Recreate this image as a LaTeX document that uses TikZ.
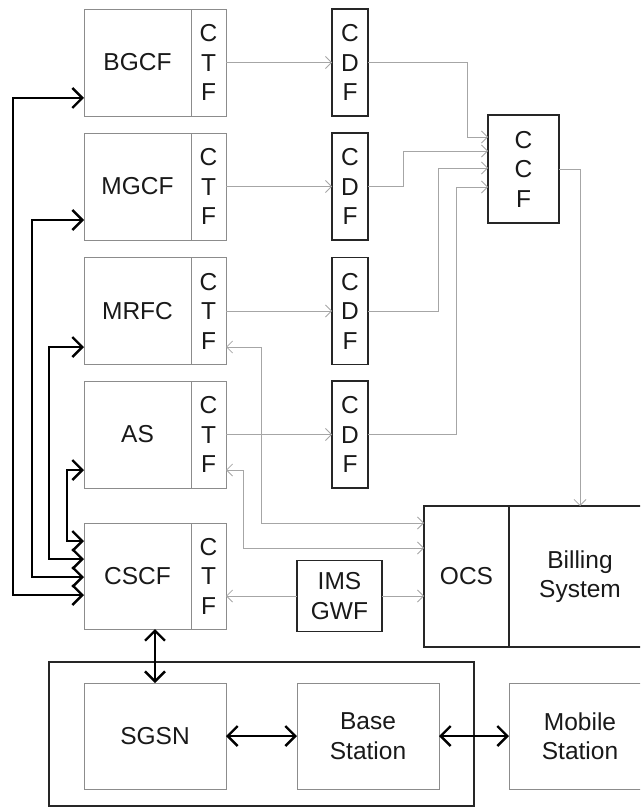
\documentclass[tikz,border=0pt]{standalone}
\usepackage{fontspec}
\setmainfont{Liberation Sans}
\usetikzlibrary{arrows.meta,positioning}
\begin{document}
\begin{tikzpicture}[x=1pt, y=-1pt,
  every node/.style={font=\fontsize{24.5}{29.5}\selectfont, text=black!90, inner sep=0pt, outer sep=0pt, align=center},
  fbox/.style={draw=black!45, line width=0.8pt, minimum width=107pt, minimum height=107pt},
  ctfbox/.style={draw=black!45, line width=0.8pt, minimum width=35pt, minimum height=107pt},
  cdfbox/.style={draw=black!85, line width=1.6pt, minimum width=36pt, minimum height=107pt},
  kbox/.style={draw=black!85, line width=1.6pt},
  gbox/.style={draw=black!45, line width=0.8pt, minimum width=142pt, minimum height=106pt},
  gline/.style={draw=black!35, line width=0.8pt, -{Straight Barb[length=6pt,width=12pt]}},
  gboth/.style={gline, {Straight Barb[length=6pt,width=12pt]}-{Straight Barb[length=6pt,width=12pt]}},
  link/.style={draw=black, line width=2.4pt, {Straight Barb[length=10pt,width=20pt]}-{Straight Barb[length=10pt,width=20pt]}}]
  \useasboundingbox (0,0) rectangle (640,810);
  \clip (0,0) rectangle (640,810);
  % network functions with their CTF
  \node[fbox] (bgcf) at (137.5,62.5) {BGCF};
  \node[ctfbox, right=0pt of bgcf] (bgcfctf) {C\\T\\F};
  \node[fbox] (mgcf) at (137.5,186.5) {MGCF};
  \node[ctfbox, right=0pt of mgcf] (mgcfctf) {C\\T\\F};
  \node[fbox] (mrfc) at (137.5,311) {MRFC};
  \node[ctfbox, right=0pt of mrfc] (mrfcctf) {C\\T\\F};
  \node[fbox] (as) at (137.5,434.5) {AS};
  \node[ctfbox, right=0pt of as] (asctf) {C\\T\\F};
  \node[fbox, minimum height=106pt] (cscf) at (137.5,576) {CSCF};
  \node[ctfbox, minimum height=106pt, right=0pt of cscf] (cscfctf) {C\\T\\F};
  % offline charging
  \node[cdfbox] (bgcfcdf) at (350,62.5) {C\\D\\F};
  \node[cdfbox] (mgcfcdf) at (350,186.5) {C\\D\\F};
  \node[cdfbox] (mrfccdf) at (350,311) {C\\D\\F};
  \node[cdfbox] (ascdf) at (350,434.5) {C\\D\\F};
  \node[kbox, minimum width=71pt, minimum height=108pt] (ccf) at (523.5,169) {C\\C\\F};
  % online charging and billing
  \node[kbox, minimum width=85pt, minimum height=141pt] (ocs) at (466.5,576.5) {OCS};
  \node[kbox, minimum width=142pt, minimum height=141pt, right=0pt of ocs] (bill) {Billing\\System};
  \node[kbox, minimum width=85pt, minimum height=71pt] (gwf) at (339.5,596) {IMS\\GWF};
  % access side
  \node[kbox, minimum width=425pt, minimum height=144pt] (ran) at (261.5,734) {};
  \node[gbox] (sgsn) at (155,736) {SGSN};
  \node[gbox] (bs) at (368,736) {Base\\Station};
  \node[gbox] (ms) at (580,736) {Mobile\\Station};
  % CTF to CDF to CCF
  \draw[gline] (bgcfctf) -- (bgcfcdf);
  \draw[gline] (mgcfctf) -- (mgcfcdf);
  \draw[gline] (mrfcctf) -- (mrfccdf);
  \draw[gline] (asctf) -- (ascdf);
  \draw[gline] (bgcfcdf.east) -| ([xshift=-21pt,yshift=32pt]ccf.west) -- ([yshift=32pt]ccf.west);
  \draw[gline] (mgcfcdf.east) -| ([xshift=-85pt,yshift=18pt]ccf.west) -- ([yshift=18pt]ccf.west);
  \draw[gline] (mrfccdf.east) -| ([xshift=-50pt,yshift=1pt]ccf.west) -- ([yshift=1pt]ccf.west);
  \draw[gline] (ascdf.east) -| ([xshift=-32pt,yshift=-18pt]ccf.west) -- ([yshift=-18pt]ccf.west);
  \draw[gline] (ccf.east) -| (bill.north);
  % CTF to OCS
  \draw[gboth] ([yshift=-36pt]mrfcctf.east) -| ([xshift=-163pt,yshift=53.5pt]ocs.west) -- ([yshift=53.5pt]ocs.west);
  \draw[gboth] ([yshift=-35.5pt]asctf.east) -| ([xshift=-181pt,yshift=28.5pt]ocs.west) -- ([yshift=28.5pt]ocs.west);
  \draw[gline] (gwf) -- (gwf -| cscfctf.east);
  \draw[gline] (gwf) -- (gwf -| ocs.west);
  % CSCF links
  \draw[link] ([yshift=35pt]cscf.west) -- ++(-17pt,0pt) |- ([yshift=-35.5pt]as.west);
  \draw[link] ([yshift=17pt]cscf.west) -- ++(-35pt,0pt) |- ([yshift=-36pt]mrfc.west);
  \draw[link] ([yshift=-1pt]cscf.west) -- ++(-52pt,0pt) |- ([yshift=-33.5pt]mgcf.west);
  \draw[link] ([yshift=-19pt]cscf.west) -- ++(-71pt,0pt) |- ([yshift=-35.5pt]bgcf.west);
  \draw[link] (sgsn.north) -- (sgsn.north |- cscf.south);
  \draw[link] (sgsn) -- (bs);
  \draw[link] (bs) -- (ms);
\end{tikzpicture}
\end{document}
